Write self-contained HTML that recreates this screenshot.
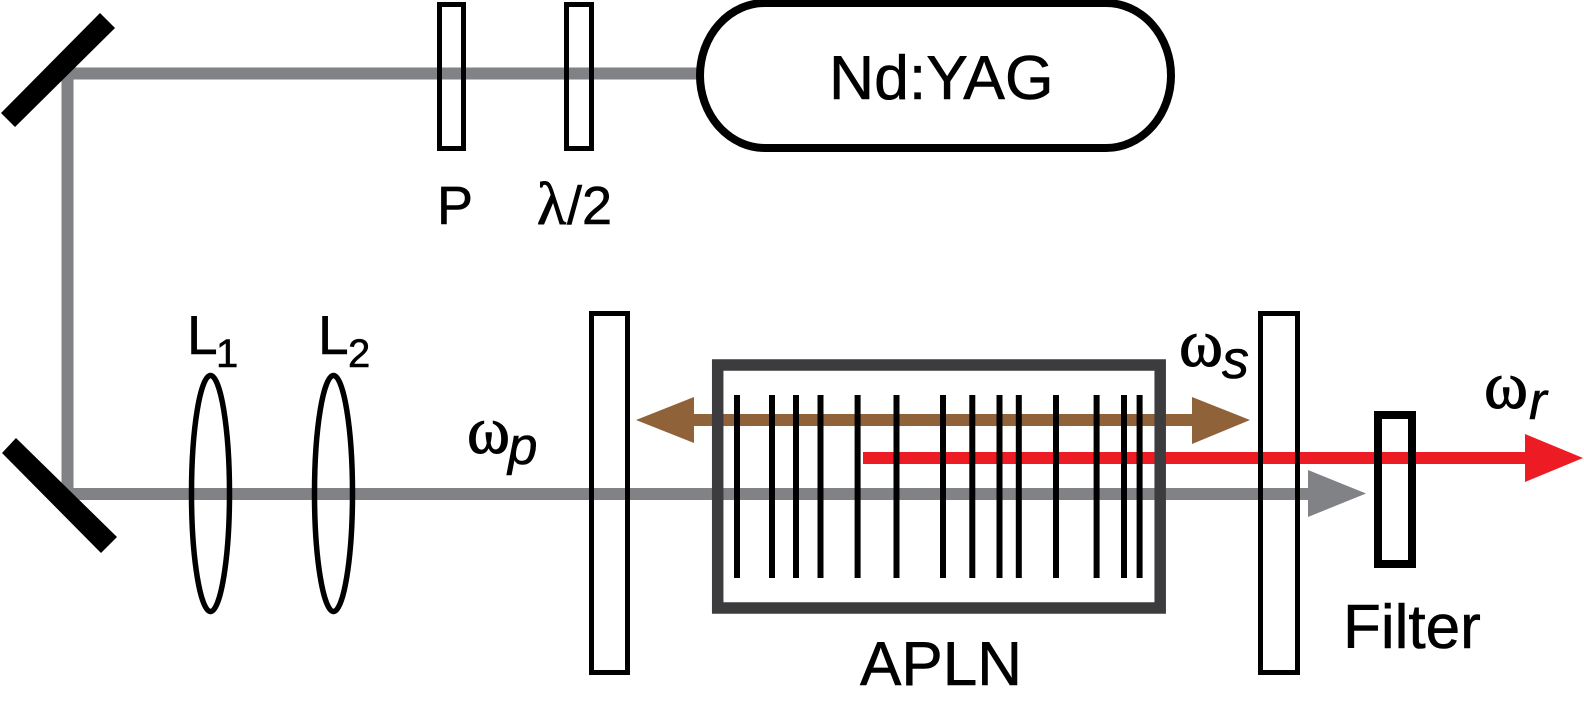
<!DOCTYPE html>
<html>
<head>
<meta charset="utf-8">
<style>
html,body{margin:0;padding:0;background:#fff;width:1584px;height:714px;overflow:hidden}
svg{display:block}
text{font-family:"Liberation Sans",sans-serif;fill:#000;stroke:#000;stroke-width:.6}
.g{font-family:"Liberation Serif",serif;stroke-width:1}
.i{font-style:italic}
</style>
</head>
<body>
<svg width="1584" height="714" viewBox="0 0 1584 714" xmlns="http://www.w3.org/2000/svg">
<!-- beams -->
<path d="M700 73.500H67.500V494H1312" fill="none" stroke="#808285" stroke-width="12"/>
<polygon points="1308,470 1366,493.500 1308,517" fill="#808285"/>
<!-- brown beam -->
<rect x="690" y="414" width="506" height="12" fill="#8f623a"/>
<polygon points="636,420 694,397 694,443" fill="#8f623a"/>
<polygon points="1192,397 1250,420 1192,444" fill="#8f623a"/>
<!-- red beam -->
<rect x="863" y="452" width="666" height="12" fill="#ed1c24"/>
<polygon points="1525,434 1583,458 1525,482" fill="#ed1c24"/>
<!-- mirrors -->
<polygon points="100,13 115,28 15,127 1,113" fill="#000"/>
<polygon points="16,438 2,453 101,553 117,537" fill="#000"/>
<!-- waveplates -->
<rect x="439.500" y="4.500" width="24" height="144" fill="none" stroke="#000" stroke-width="5"/>
<rect x="566.500" y="4.500" width="25" height="144" fill="none" stroke="#000" stroke-width="5"/>
<!-- laser -->
<rect x="700" y="3" width="471" height="145" rx="65" ry="72.500" fill="#fff" stroke="#000" stroke-width="8"/>
<text x="829" y="99" font-size="62.500">Nd:YAG</text>
<!-- lenses -->
<path d="M210.500 375.500C220.500 375.500 229.500 428 229.500 493.500C229.500 559 220.500 611.500 210.500 611.500C200.500 611.500 191.500 559 191.500 493.500C191.500 428 200.500 375.500 210.500 375.500Z" fill="none" stroke="#000" stroke-width="5.500"/>
<path d="M333.500 375.500C343.500 375.500 352.500 428 352.500 493.500C352.500 559 343.500 611.500 333.500 611.500C323.500 611.500 314.500 559 314.500 493.500C314.500 428 323.500 375.500 333.500 375.500Z" fill="none" stroke="#000" stroke-width="5.500"/>
<!-- mirrors of cavity -->
<rect x="591.500" y="313.500" width="36" height="359" fill="none" stroke="#000" stroke-width="5"/>
<rect x="1260.500" y="313.500" width="37" height="359" fill="none" stroke="#000" stroke-width="5"/>
<!-- APLN crystal -->
<rect x="717.700" y="365" width="442.500" height="243" fill="none" stroke="#3c3c3f" stroke-width="11.500"/>
<g stroke="#000" stroke-width="6">
<line x1="737" y1="395" x2="737" y2="578"/>
<line x1="772" y1="395" x2="772" y2="578"/>
<line x1="796" y1="395" x2="796" y2="578"/>
<line x1="820.500" y1="395" x2="820.500" y2="578"/>
<line x1="857.600" y1="395" x2="857.600" y2="578"/>
<line x1="896.500" y1="395" x2="896.500" y2="578"/>
<line x1="943" y1="395" x2="943" y2="578"/>
<line x1="972.300" y1="395" x2="972.300" y2="578"/>
<line x1="999.500" y1="395" x2="999.500" y2="578"/>
<line x1="1018.800" y1="395" x2="1018.800" y2="578"/>
<line x1="1056" y1="395" x2="1056" y2="578"/>
<line x1="1096.600" y1="395" x2="1096.600" y2="578"/>
<line x1="1124" y1="395" x2="1124" y2="578"/>
<line x1="1139.600" y1="395" x2="1139.600" y2="578"/>
</g>
<!-- filter -->
<rect x="1378" y="415" width="34" height="149" fill="none" stroke="#000" stroke-width="8"/>
<!-- labels -->
<text x="437" y="224" font-size="54">P</text>
<text class="g" x="537" y="224" font-size="60">λ</text>
<text x="567" y="224" font-size="54">/2</text>
<text x="187" y="354" font-size="55">L</text>
<text x="216" y="367" font-size="40">1</text>
<text x="318" y="354" font-size="55">L</text>
<text x="348" y="367" font-size="40">2</text>
<text class="g" x="467" y="453" font-size="68" textLength="43" lengthAdjust="spacingAndGlyphs">ω</text>
<text class="i" x="508" y="464" font-size="53">p</text>
<text class="g" x="1179" y="366" font-size="68" textLength="44" lengthAdjust="spacingAndGlyphs">ω</text>
<text class="i" x="1222" y="378" font-size="54">s</text>
<text class="g" x="1484" y="408" font-size="68" textLength="44" lengthAdjust="spacingAndGlyphs">ω</text>
<text class="i" x="1529" y="419" font-size="53">r</text>
<text x="860" y="685" font-size="62">APLN</text>
<text x="1343" y="648" font-size="62">Filter</text>
</svg>
</body>
</html>
